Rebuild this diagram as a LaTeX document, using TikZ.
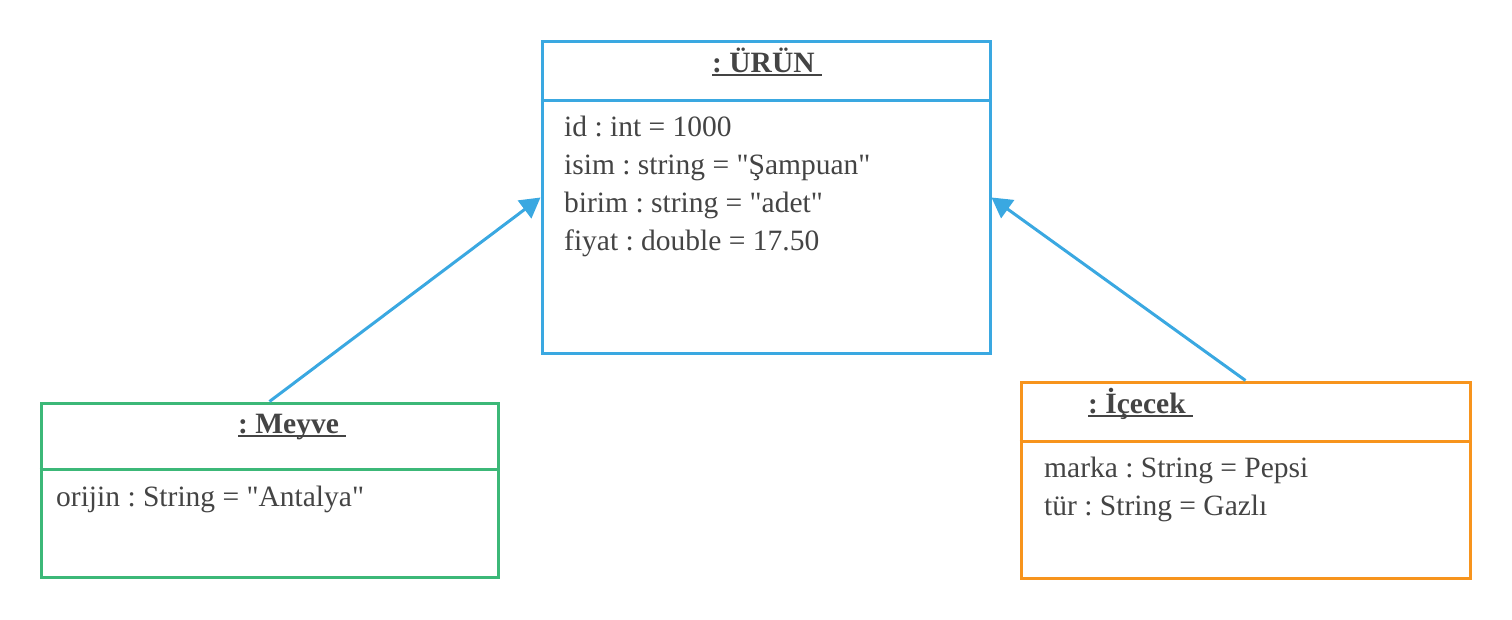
\documentclass[tikz,border=0pt]{standalone}
\usepackage{fontspec}
\setmainfont{Liberation Serif}
\usetikzlibrary{arrows.meta}
\definecolor{cblue}{HTML}{3AA8E1}
\definecolor{cgreen}{HTML}{3CB878}
\definecolor{corange}{HTML}{F7941D}
\definecolor{ctext}{HTML}{444444}
\newcommand\titleul[1]{\setbox0=\hbox{#1}\rlap{\rule[-3.5pt]{\wd0}{2pt}}\box0}
\newcommand\q{\textquotedbl}
\frenchspacing
\begin{document}
\begin{tikzpicture}[x=1pt,y=-1pt,
  objbox/.style={draw,line width=3pt,inner sep=0pt,fill=white},
  divline/.style={line width=3pt},
  txt/.style={anchor=base west,inner sep=0pt,text=ctext,font=\fontsize{29.5}{34}\selectfont\frenchspacing},
  ttl/.style={txt,font=\fontsize{29.5}{34}\selectfont\bfseries\frenchspacing},
  link/.style={draw=cblue,line width=3pt,-{Triangle[length=20pt,width=22pt]}}]
\useasboundingbox (0,0) rectangle (1512,620);
% boxes
\node[objbox,draw=cblue,minimum width=448pt,minimum height=311pt] (urun) at (766,197.5) {};
\node[objbox,draw=cgreen,minimum width=457pt,minimum height=174pt] (meyve) at (269.5,490) {};
\node[objbox,draw=corange,minimum width=449pt,minimum height=196pt] (icecek) at (1245.5,480) {};
% dividers
\draw[divline,cblue] (urun.west |- 0,101) -- (urun.east |- 0,101);
\draw[divline,cgreen] (meyve.west |- 0,469) -- (meyve.east |- 0,469);
\draw[divline,corange] (icecek.west |- 0,441) -- (icecek.east |- 0,441);
% titles
\node[ttl] (t1) at (712,73) {\titleul{: ÜRÜN\ }};
\node[ttl] (t2) at (238,433) {\titleul{: Meyve\ }};
\node[ttl] (t3) at (1088,413) {\titleul{: İçecek\ }};
% attributes
\node[txt] (a1) at (564,137) {id : int = 1000};
\node[txt] (a2) at (564,175) {isim : string = \q Şampuan\q};
\node[txt] (a3) at (564,213) {birim : string = \q adet\q};
\node[txt] (a4) at (564,251) {fiyat : double = 17.50};
\node[txt] (m1) at (56,506) {orijin : String = \q Antalya\q};
\node[txt] (i1) at (1044,477) {marka : String = Pepsi};
\node[txt] (i2) at (1044,515) {tür : String = Gazlı};
% links
\draw[link] (meyve.north) -- (urun.west);
\draw[link] (icecek.north) -- (urun.east);
\end{tikzpicture}
\end{document}
